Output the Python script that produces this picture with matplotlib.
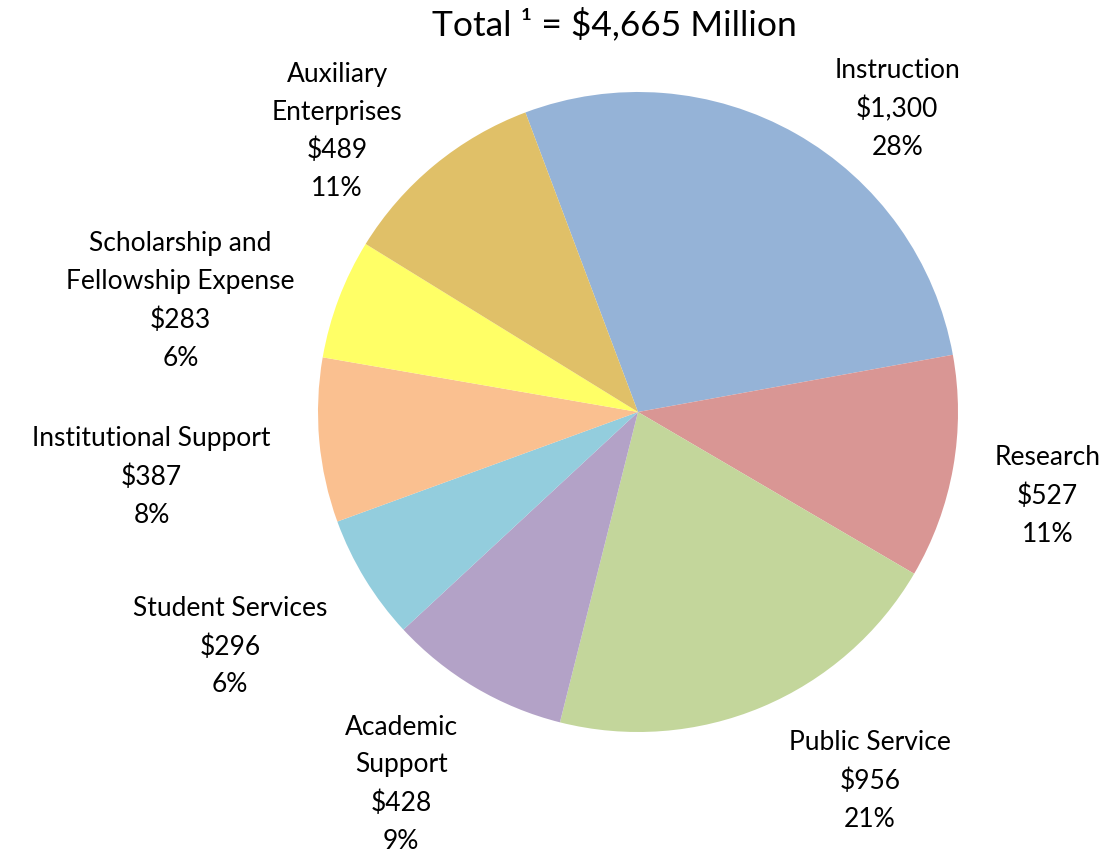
"""
Pie chart of expenses by function, total in millions
"""

import matplotlib
matplotlib.use('Agg')
from matplotlib import pyplot

categories = ['Instruction', 'Research', 'Public Service', 'Academic\nSupport',
              'Student Services', 'Institutional Support',
              'Scholarship and\nFellowship Expense', 'Auxiliary\nEnterprises']
amounts = [1300, 527, 956, 428, 296, 387, 283, 489]
percents = ['28%', '11%', '21%', '9%', '6%', '8%', '6%', '11%']
title_text = 'Total \u00b9 = $4,665 Million'

colors = ['#95B3D7', '#D99694', '#C3D69B', '#B3A2C7',
          '#93CDDD', '#FAC090', '#FFFF66', '#E0C068']
# label centres in units of pie radius
label_xy = [(0.81, 0.95), (1.28, -0.26), (0.725, -1.15), (-0.74, -1.16),
            (-1.275, -0.73), (-1.52, -0.20), (-1.43, 0.35), (-0.94, 0.88)]

FONT = ['Lato', 'DejaVu Sans']


def main():
    pyplot.rcParams['font.family'] = FONT
    fig = pyplot.figure(figsize=(11.19, 8.54), dpi=100)
    ax = fig.add_axes([0, 0, 1, 1])

    ax.pie(amounts, colors=colors, startangle=110.6, counterclock=False,
           radius=1.0, wedgeprops=dict(linewidth=0))

    for name, amt, pct, (x, y) in zip(categories, amounts, percents, label_xy):
        ax.text(x, y, '%s\n$%s\n%s' % (name, format(amt, ','), pct),
                ha='center', va='center', fontsize=19, linespacing=1.64,
                color='black')

    ax.set_xlim(-638 / 320, (1119 - 638) / 320)
    ax.set_ylim((413 - 854) / 320, 413 / 320)
    ax.set_aspect('auto')
    ax.axis('off')

    fig.text(614 / 1119, 1 - 24 / 854, title_text, ha='center', va='center',
             fontsize=25.5)

    fig.savefig('out.png', dpi=100)


if __name__ == '__main__':
    main()
